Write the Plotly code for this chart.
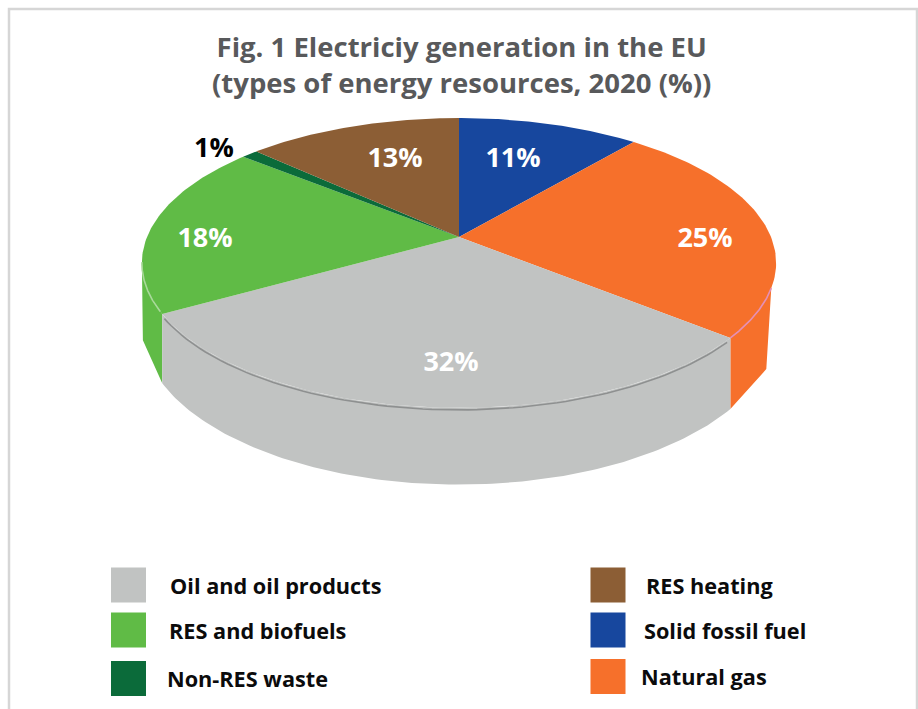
import numpy as np
import plotly.graph_objects as go

# ---- data ----
categories = ["Solid fossil fuel", "Natural gas", "Oil and oil products",
              "RES and biofuels", "Non-RES waste", "RES heating"]
values = [11, 25, 32, 18, 1, 13]
colors = ["#17479e", "#f6702b", "#c1c3c2", "#60bb46", "#0b6b3a", "#8c5e35"]
title_lines = ["Fig. 1 Electriciy generation in the EU",
               "(types of energy resources, 2020 (%))"]

# ---- layout of the perspective disc (pixel space) ----
CX, CY = 459, 237          # where the slices meet
A, B, P = 312, 140.3, -0.179
START = 0.0                # degrees, rotation of first slice
SEAM_NUDGE = -4.8          # the reference draws the oil / RES seam slightly early
DEPTH = 63
FONT = "Open Sans"


def disc(deg):
    t = np.radians(np.asarray(deg, dtype=float))
    u, v = np.sin(t), np.cos(t)
    d = 1 - P * v
    return CX + A * u / d, CY - B * v / d


def depth(deg):
    return DEPTH / (1 - P * np.cos(np.radians(np.asarray(deg, dtype=float))))


fracs = np.cumsum([0] + values) / sum(values) * 360 + START
start_deg = dict(zip(categories, fracs[:-1]))
end_deg = dict(zip(categories, fracs[1:]))
color_of = dict(zip(categories, colors))
oil, gas, res = "Oil and oil products", "Natural gas", "RES and biofuels"
end_deg[oil] += SEAM_NUDGE
start_deg[res] += SEAM_NUDGE
fig = go.Figure()


def poly(xs, ys, color, name):
    fig.add_trace(go.Scatter(x=list(xs), y=list(ys), mode="lines", fill="toself",
                             fillcolor=color, line=dict(width=0, color=color),
                             name=name, showlegend=False, hoverinfo="name"))


def arc(a, b, n=60):
    return np.linspace(a, b, n)


# side walls
RIGHT_EDGE, LEFT_EDGE = 110.0, 260.0

th = arc(end_deg[oil], LEFT_EDGE)
x, y = disc(th)
xs, ys = disc(LEFT_EDGE)
xe, ye = disc(end_deg[oil])
poly(list(x) + [float(xs) + 1, float(xe)], list(y) + [float(ys) + 78, float(ye) + float(depth(end_deg[oil]))],
     color_of[res], res)

th = arc(RIGHT_EDGE, start_deg[oil])
x, y = disc(th)
xs, ys = disc(RIGHT_EDGE)
xe, ye = disc(start_deg[oil])
poly(list(x) + [float(xe), float(xs) - 5], list(y) + [float(ye) + float(depth(start_deg[oil])), float(ys) + 81],
     color_of[gas], gas)

th = arc(start_deg[oil], end_deg[oil], 120)
x, y = disc(th)
dp = depth(th)
poly(list(x) + list(x[::-1]), list(y) + list((y + dp)[::-1]), color_of[oil], oil)

# top face
for c in categories:
    th = arc(start_deg[c], end_deg[c], 80)
    x, y = disc(th)
    poly([CX] + list(x) + [CX], [CY] + list(y) + [CY], color_of[c], c)


def rim(a, b, color, dy=0.0):
    x, y = disc(arc(a, b, 80))
    fig.add_trace(go.Scatter(x=x, y=y + dy, mode="lines", line=dict(color=color, width=1.6),
                             showlegend=False, hoverinfo="skip"))


rim(start_deg[oil] + 1, end_deg[oil] - 1, "#8e9090", 2)
rim(RIGHT_EDGE, start_deg[oil], "#e58fb5")
rim(end_deg[oil] + 1, LEFT_EDGE, "#a9d99b")

# value labels
label_pos = {"Solid fossil fuel": (513, 160), "Natural gas": (705, 240), "Oil and oil products": (451, 364),
             "RES and biofuels": (205, 240), "Non-RES waste": (214, 150), "RES heating": (395, 160)}
for c, val in zip(categories, values):
    px, py = label_pos[c]
    fig.add_trace(go.Scatter(x=[px], y=[py], mode="text", text=[f"{val}%"], textposition="middle center",
                             textfont=dict(family=FONT, size=27, weight="bold",
                                           color="#000000" if c == "Non-RES waste" else "#ffffff"),
                             showlegend=False, hoverinfo="skip"))

# legend
legend_layout = [("Oil and oil products", 128.5, 585, 170), ("RES and biofuels", 128.5, 630, 168.5),
                 ("Non-RES waste", 128.5, 678.5, 167), ("RES heating", 608, 585, 646),
                 ("Solid fossil fuel", 608, 630, 644), ("Natural gas", 608, 676.5, 641)]
for c, sx, sy, tx in legend_layout:
    fig.add_trace(go.Scatter(x=[sx], y=[sy], mode="markers",
                             marker=dict(symbol="square", size=35, color=color_of[c], line=dict(width=0)),
                             showlegend=False, name=c, hoverinfo="name"))
    fig.add_annotation(x=tx, y=sy, text=f"<b>{c}</b>", showarrow=False, xanchor="left", yanchor="middle",
                       xshift=-2, font=dict(family=FONT, size=21.7, color="#0b0b0c"))

# title
fig.add_annotation(x=461, y=64, text="<b>" + "<br>".join(title_lines) + "</b>", showarrow=False,
                   xanchor="center", yanchor="middle", align="center",
                   font=dict(family=FONT, size=27.5, color="#58595b"))

fig.add_shape(type="rect", x0=9, y0=9, x1=917, y1=730, line=dict(color="#d6d6d6", width=2.5), layer="below")

fig.update_layout(width=918, height=709, autosize=False, margin=dict(l=0, r=0, t=0, b=0),
                  paper_bgcolor="white", plot_bgcolor="white", showlegend=False,
                  xaxis=dict(range=[0, 918], visible=False, fixedrange=True),
                  yaxis=dict(range=[709, 0], visible=False, fixedrange=True))
fig.write_html("out.html", config={"displayModeBar": False},
               post_script="document.body.style.margin='0';document.documentElement.style.overflow='hidden';")
